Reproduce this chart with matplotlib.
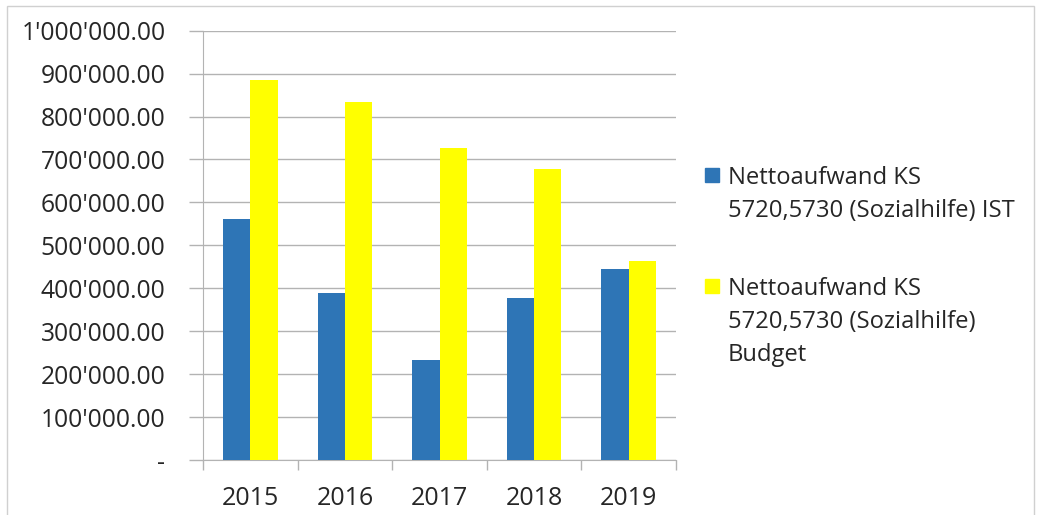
import matplotlib.pyplot as plt
import matplotlib.transforms as mtransforms
import numpy as np
from matplotlib.patches import Rectangle
from matplotlib.ticker import FuncFormatter, MultipleLocator

plt.rcParams['font.family'] = ['Open Sans', 'DejaVu Sans']

years = ['2015', '2016', '2017', '2018', '2019']
ist = [562000, 388000, 233000, 378000, 446000]
budget = [885000, 835000, 727000, 677000, 464000]
labels = ['Nettoaufwand KS\n5720,5730 (Sozialhilfe) IST',
          'Nettoaufwand KS\n5720,5730 (Sozialhilfe)\nBudget']
colors = ['#2E75B6', '#FFFF00']

W, H = 1040, 515
fig = plt.figure(figsize=(W / 100, H / 100), dpi=100)
ax = fig.add_axes([203 / W, 1 - 460 / H, (676 - 203) / W, (460 - 30.7) / H])

x = np.arange(len(years))
bw = 0.289
ax.bar(x - bw / 2, ist, bw, color=colors[0], zorder=3)
ax.bar(x + bw / 2, budget, bw, color=colors[1], zorder=3)

ax.set_xlim(-0.5, len(years) - 0.5)
ax.set_ylim(0, 1000000)
ax.yaxis.set_major_locator(MultipleLocator(100000))


def fmt(v, pos):
    # accounting style: zero shown as a dash
    if v == 0:
        return '-'
    s = f"{v:,.2f}".replace(',', "'")
    return s


ax.yaxis.set_major_formatter(FuncFormatter(fmt))
ax.grid(axis='y', color='#b3b3b3', linewidth=1, zorder=0)
for sp in ['top', 'right']:
    ax.spines[sp].set_visible(False)
for sp in ['left', 'bottom']:
    ax.spines[sp].set_color('#b3b3b3')
ax.tick_params(axis='y', length=10, color='#b3b3b3', width=1, pad=17,
               labelsize=17.7, labelcolor='#262626')

# nudge the zero dash left, like Excel's accounting format
t0 = ax.yaxis.get_major_ticks()[0]
t0.label1.set_transform(t0.label1.get_transform() +
                        mtransforms.ScaledTranslation(-0.12, 0, fig.dpi_scale_trans))

# category ticks at boundaries, labels at centres
ax.set_xticks(np.arange(len(years) + 1) - 0.5)
ax.set_xticklabels([])
ax.set_xticks(x, minor=True)
ax.set_xticklabels(years, minor=True)
ax.tick_params(axis='x', which='major', length=7, color='#b3b3b3', width=1)
ax.tick_params(axis='x', which='minor', length=0, pad=18.5,
               labelsize=18, labelcolor='#262626')

# legend drawn on the figure
ly = [175, 286]
for i in range(2):
    fig.add_artist(Rectangle((705 / W, 1 - (ly[i] + 7) / H), 14 / W, 14 / H,
                             transform=fig.transFigure, color=colors[i]))
    fig.text(728 / W, 1 - (ly[i] - 9) / H, labels[i], fontsize=17.1,
             color='#262626', va='top', ha='left', linespacing=1.5)

# outer border
fig.add_artist(Rectangle((7 / W, -0.1), (1034 - 7) / W, 1 - 6 / H + 0.1,
                         transform=fig.transFigure, fill=False,
                         edgecolor='#d0d0d0', linewidth=1))

fig.savefig('out.png', dpi=100)
